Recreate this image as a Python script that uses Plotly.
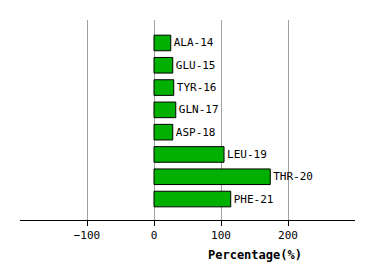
import plotly.graph_objects as go

residues = ["ALA-14", "GLU-15", "TYR-16", "GLN-17", "ASP-18", "LEU-19", "THR-20", "PHE-21"]
percentages = [25, 28, 29.5, 32.5, 28, 104.5, 173.5, 114.5]
tick_values = [-100, 0, 100, 200]
tick_labels = ["\u2212100", "0", "100", "200"]
axis_title = "Percentage(%)"

font_family = "DejaVu Sans Mono"

fig = go.Figure(
    go.Bar(
        x=percentages,
        y=residues,
        orientation="h",
        width=0.7,
        marker=dict(color="#00b000", line=dict(color="black", width=1)),
        text=residues,
        textposition="outside",
        textfont=dict(family=font_family, size=11, color="black"),
        cliponaxis=False,
        hoverinfo="skip",
    )
)

fig.update_layout(
    width=374,
    height=280,
    margin=dict(l=20, r=19, t=20, b=60),
    paper_bgcolor="white",
    plot_bgcolor="white",
    showlegend=False,
    font=dict(family=font_family, size=11, color="black"),
    xaxis=dict(
        range=[-200, 300],
        tickvals=tick_values,
        ticktext=tick_labels,
        showgrid=True,
        gridcolor="#a0a0a0",
        gridwidth=1,
        zeroline=False,
        ticks="outside",
        ticklen=5,
        tickcolor="black",
        showline=True,
        linecolor="black",
        linewidth=1,
        tickfont=dict(family=font_family, size=11, color="black"),
        fixedrange=True,
    ),
    yaxis=dict(
        type="category",
        range=[7.94, -1.03],
        showticklabels=False,
        showgrid=False,
        zeroline=False,
        showline=False,
        ticks="",
        fixedrange=True,
    ),
    annotations=[
        dict(
            text="<b>" + axis_title + "</b>",
            x=150,
            xref="x",
            y=-0.175,
            yref="paper",
            xanchor="center",
            yanchor="middle",
            showarrow=False,
            font=dict(family=font_family, size=12, color="black"),
        )
    ],
)

fig.write_html("out.html")
